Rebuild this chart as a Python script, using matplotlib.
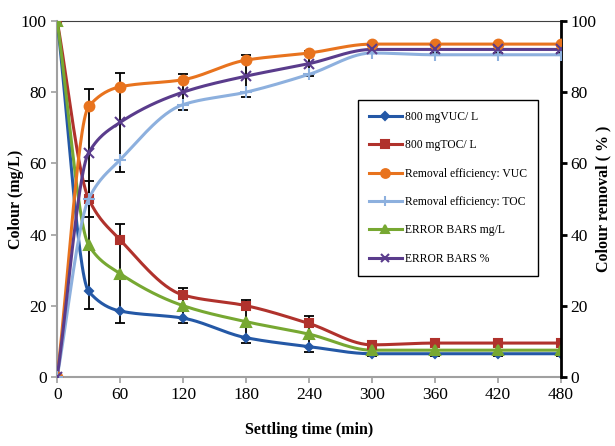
import numpy as np
import matplotlib
matplotlib.use("Agg")
import matplotlib.pyplot as plt
from matplotlib.lines import Line2D

plt.rcParams['font.family'] = ['Liberation Serif', 'DejaVu Serif']

time = [0, 30, 60, 120, 180, 240, 300, 360, 420, 480]

vuc_mgl = [100, 24, 18.5, 16.5, 11, 8.5, 6.5, 6.5, 6.5, 6.5]
toc_mgl = [100, 50, 38.5, 23, 20, 15, 9, 9.5, 9.5, 9.5]
err_mgl = [100, 37, 29, 20, 15.5, 12, 7.5, 7.5, 7.5, 7.5]
err_mgl_sd = [0, 18, 14, 5, 6, 5, 1.5, 1.5, 1.5, 1.5]

rem_vuc = [0, 76, 81.5, 83.5, 89, 91, 93.5, 93.5, 93.5, 93.5]
rem_toc = [0, 50, 61, 76.5, 80, 85, 91, 90.5, 90.5, 90.5]
err_pct = [0, 63, 71.5, 80, 84.5, 88, 92, 92, 92, 92]
err_pct_sd = [0, 18, 14, 5, 6, 3.5, 1, 1, 1, 1]

xticks = [0, 60, 120, 180, 240, 300, 360, 420, 480]


def smooth(x, y, n=30):
    # monotone cubic (pchip) just for drawing a smooth line through the points
    x = np.asarray(x, float)
    y = np.asarray(y, float)
    h = np.diff(x)
    d = np.diff(y) / h
    m = np.zeros_like(y)
    for k in range(1, len(x) - 1):
        if d[k - 1] * d[k] > 0:
            w1 = 2 * h[k] + h[k - 1]
            w2 = h[k] + 2 * h[k - 1]
            m[k] = (w1 + w2) / (w1 / d[k - 1] + w2 / d[k])
    m[0] = d[0]
    m[-1] = d[-1]
    xs, ys = [], []
    for k in range(len(x) - 1):
        t = np.linspace(0, 1, n)
        h00 = 2 * t ** 3 - 3 * t ** 2 + 1
        h10 = t ** 3 - 2 * t ** 2 + t
        h01 = -2 * t ** 3 + 3 * t ** 2
        h11 = t ** 3 - t ** 2
        xs.extend(x[k] + t * h[k])
        ys.extend(h00 * y[k] + h10 * h[k] * m[k] + h01 * y[k + 1] + h11 * h[k] * m[k + 1])
    return xs, ys


fig = plt.figure(figsize=(6.15, 4.46), dpi=100)
ax = fig.add_axes([0.093, 0.155, 0.819, 0.798])
ax2 = ax.twinx()

c_blue = '#2458A6'
c_red = '#B0322C'
c_orange = '#E8731E'
c_lblue = '#8DB0DE'
c_green = '#77A832'
c_purple = '#5A3C8C'

handles = []


def series(a, x, y, color, marker, label, ms, yerr=None):
    sx, sy = smooth(x, y)
    a.plot(sx, sy, color=color, lw=2.2, zorder=3)
    if yerr is not None:
        a.errorbar(x, y, yerr=yerr, fmt='none', ecolor='black', elinewidth=1.3, capsize=3.5,
                   capthick=1.3, zorder=2)
    h, = a.plot(x, y, color=color, lw=2.2, marker=marker, ms=ms, linestyle='none',
                markeredgewidth=1.5, zorder=4, label=label)
    return h


handles.append(series(ax, time, vuc_mgl, c_blue, 'D', '800 mgVUC/ L', 4.5))
handles.append(series(ax, time, toc_mgl, c_red, 's', '800 mgTOC/ L', 6))
h_orange = series(ax2, time, rem_vuc, c_orange, 'o', 'Removal efficiency: VUC', 7)
h_lblue = series(ax2, time, rem_toc, c_lblue, '+', 'Removal efficiency: TOC', 8)
h_green = series(ax, time, err_mgl, c_green, '^', 'ERROR BARS mg/L', 6.5, err_mgl_sd)
h_purple = series(ax2, time, err_pct, c_purple, 'x', 'ERROR BARS %', 7, err_pct_sd)
handles += [h_orange, h_lblue, h_green, h_purple]

leg_handles = [Line2D([], [], color=h.get_color(), lw=2.2, marker=h.get_marker(),
                      ms=h.get_markersize() * 0.9, markeredgewidth=1.5) for h in handles]
leg = ax2.legend(leg_handles, [h.get_label() for h in handles], loc='upper left',
                 bbox_to_anchor=(0.597, 0.778), frameon=True, fancybox=False, edgecolor='black',
                 fontsize=8.4, handlelength=2.8, handletextpad=0.25, labelspacing=1.4,
                 borderpad=0.95, borderaxespad=0, framealpha=1)
leg.get_frame().set_linewidth(1.0)

ax.set_xlim(0, 480)
ax.set_ylim(0, 100)
ax2.set_ylim(0, 100)
ax.set_xticks(xticks)
ax.set_yticks(range(0, 101, 20))
ax2.set_yticks(range(0, 101, 20))

for s in ['left', 'bottom']:
    ax.spines[s].set_color('#a0a0a0')
    ax.spines[s].set_linewidth(1.5)
ax.spines['top'].set_color('#404040')
ax.spines['top'].set_linewidth(0.8)
ax2.spines['top'].set_visible(False)
ax2.spines['left'].set_visible(False)
ax2.spines['bottom'].set_visible(False)
ax.spines['right'].set_visible(False)
ax2.spines['right'].set_color('black')
ax2.spines['right'].set_linewidth(2)

ax.tick_params(axis='both', colors='#a0a0a0', labelcolor='black', labelsize=12.5, length=4, width=1.2)
ax2.tick_params(axis='y', colors='black', labelsize=12.5, length=4, width=2, pad=3)

ax.set_xlabel('Settling time (min)', fontsize=11.5, fontweight='bold')
ax.set_ylabel('Colour (mg/L)', fontsize=11.5, fontweight='bold')
ax2.set_ylabel('Colour removal ( % )', fontsize=11.5, fontweight='bold')
ax.xaxis.set_label_coords(0.5, -0.128)
ax.yaxis.set_label_coords(-0.066, 0.5)
ax2.yaxis.set_label_coords(1.068, 0.5)

fig.savefig('out.png', dpi=100)
